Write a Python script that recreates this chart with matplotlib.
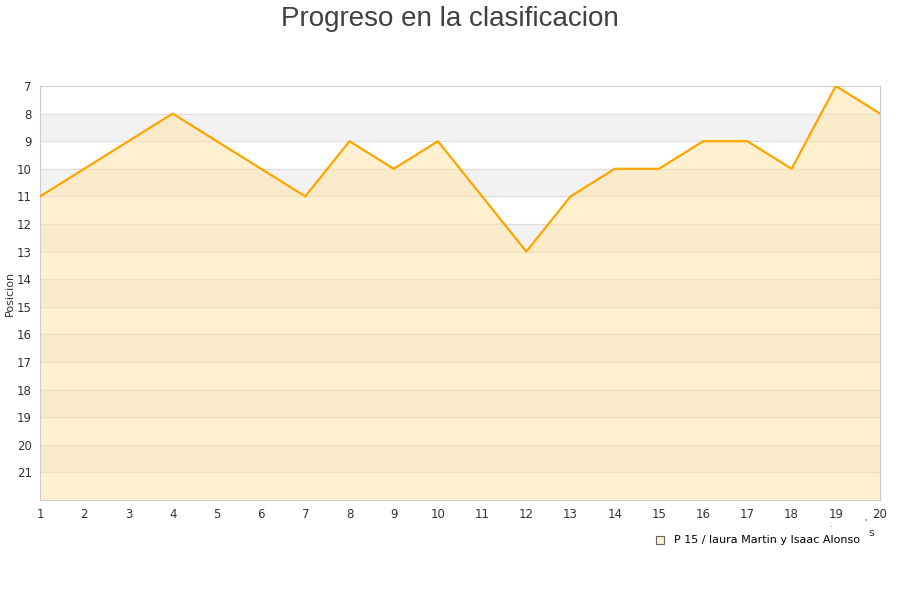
import matplotlib
matplotlib.use("Agg")
import matplotlib.pyplot as plt

# jornadas y posiciones
jornadas = list(range(1, 21))
posiciones = [11, 10, 9, 8, 9, 10, 11, 9, 10, 9, 11, 13, 11, 10, 10, 9, 9, 10, 7, 8]
y_ticks = list(range(7, 22))
pareja = "P 15 / laura Martin y Isaac Alonso"

plt.rcParams['font.family'] = ['DejaVu Sans']

fig = plt.figure(figsize=(9, 6), dpi=100)
ax = fig.add_axes([40 / 900, 100 / 600, 840 / 900, 414 / 600])

ax.set_xlim(1, 20)
ax.set_ylim(22, 7)

# alternating bands
for y0 in range(8, 22, 2):
    ax.axhspan(y0, y0 + 1, color='#f2f2f2', zorder=0)
for y in range(8, 22):
    ax.axhline(y, color='#dddddd', lw=0.8, zorder=1)

ax.fill_between(jornadas, posiciones, 22, color='#ffe4a8', alpha=0.55, lw=0, zorder=2)
ax.plot(jornadas, posiciones, color='#ffa500', lw=1.6, zorder=3)

ax.set_xticks(jornadas)
ax.set_yticks(y_ticks)
ax.tick_params(length=0, labelsize=8.5, colors='#333333', pad=6)
for s in ax.spines.values():
    s.set_color('#cccccc')
    s.set_linewidth(0.8)

ax.set_ylabel('Posicion', fontsize=8, color='#333333', labelpad=1)
fig.text(0.5, 0.99, 'Progreso en la clasificacion', ha='center', va='top',
         fontsize=20, color='#404040', family='Liberation Sans')

fig.text(0.968, 0.107, 's', fontsize=8, color='#333333', ha='center')
fig.text(0.923, 0.122, '.', fontsize=6, color='#333333', ha='center')
fig.text(0.961, 0.124, "'", fontsize=6, color='#333333', ha='center')

# legend
fig.patches.append(plt.Rectangle((656 / 900, 1 - 544 / 600), 8 / 900, 8 / 600,
                                 transform=fig.transFigure, facecolor='#ffeecc',
                                 edgecolor='#666666', lw=0.8))
fig.text(674 / 900, 1 - 540 / 600, pareja, fontsize=8, color='#000000', va='center')

fig.savefig('out.png', dpi=100)
